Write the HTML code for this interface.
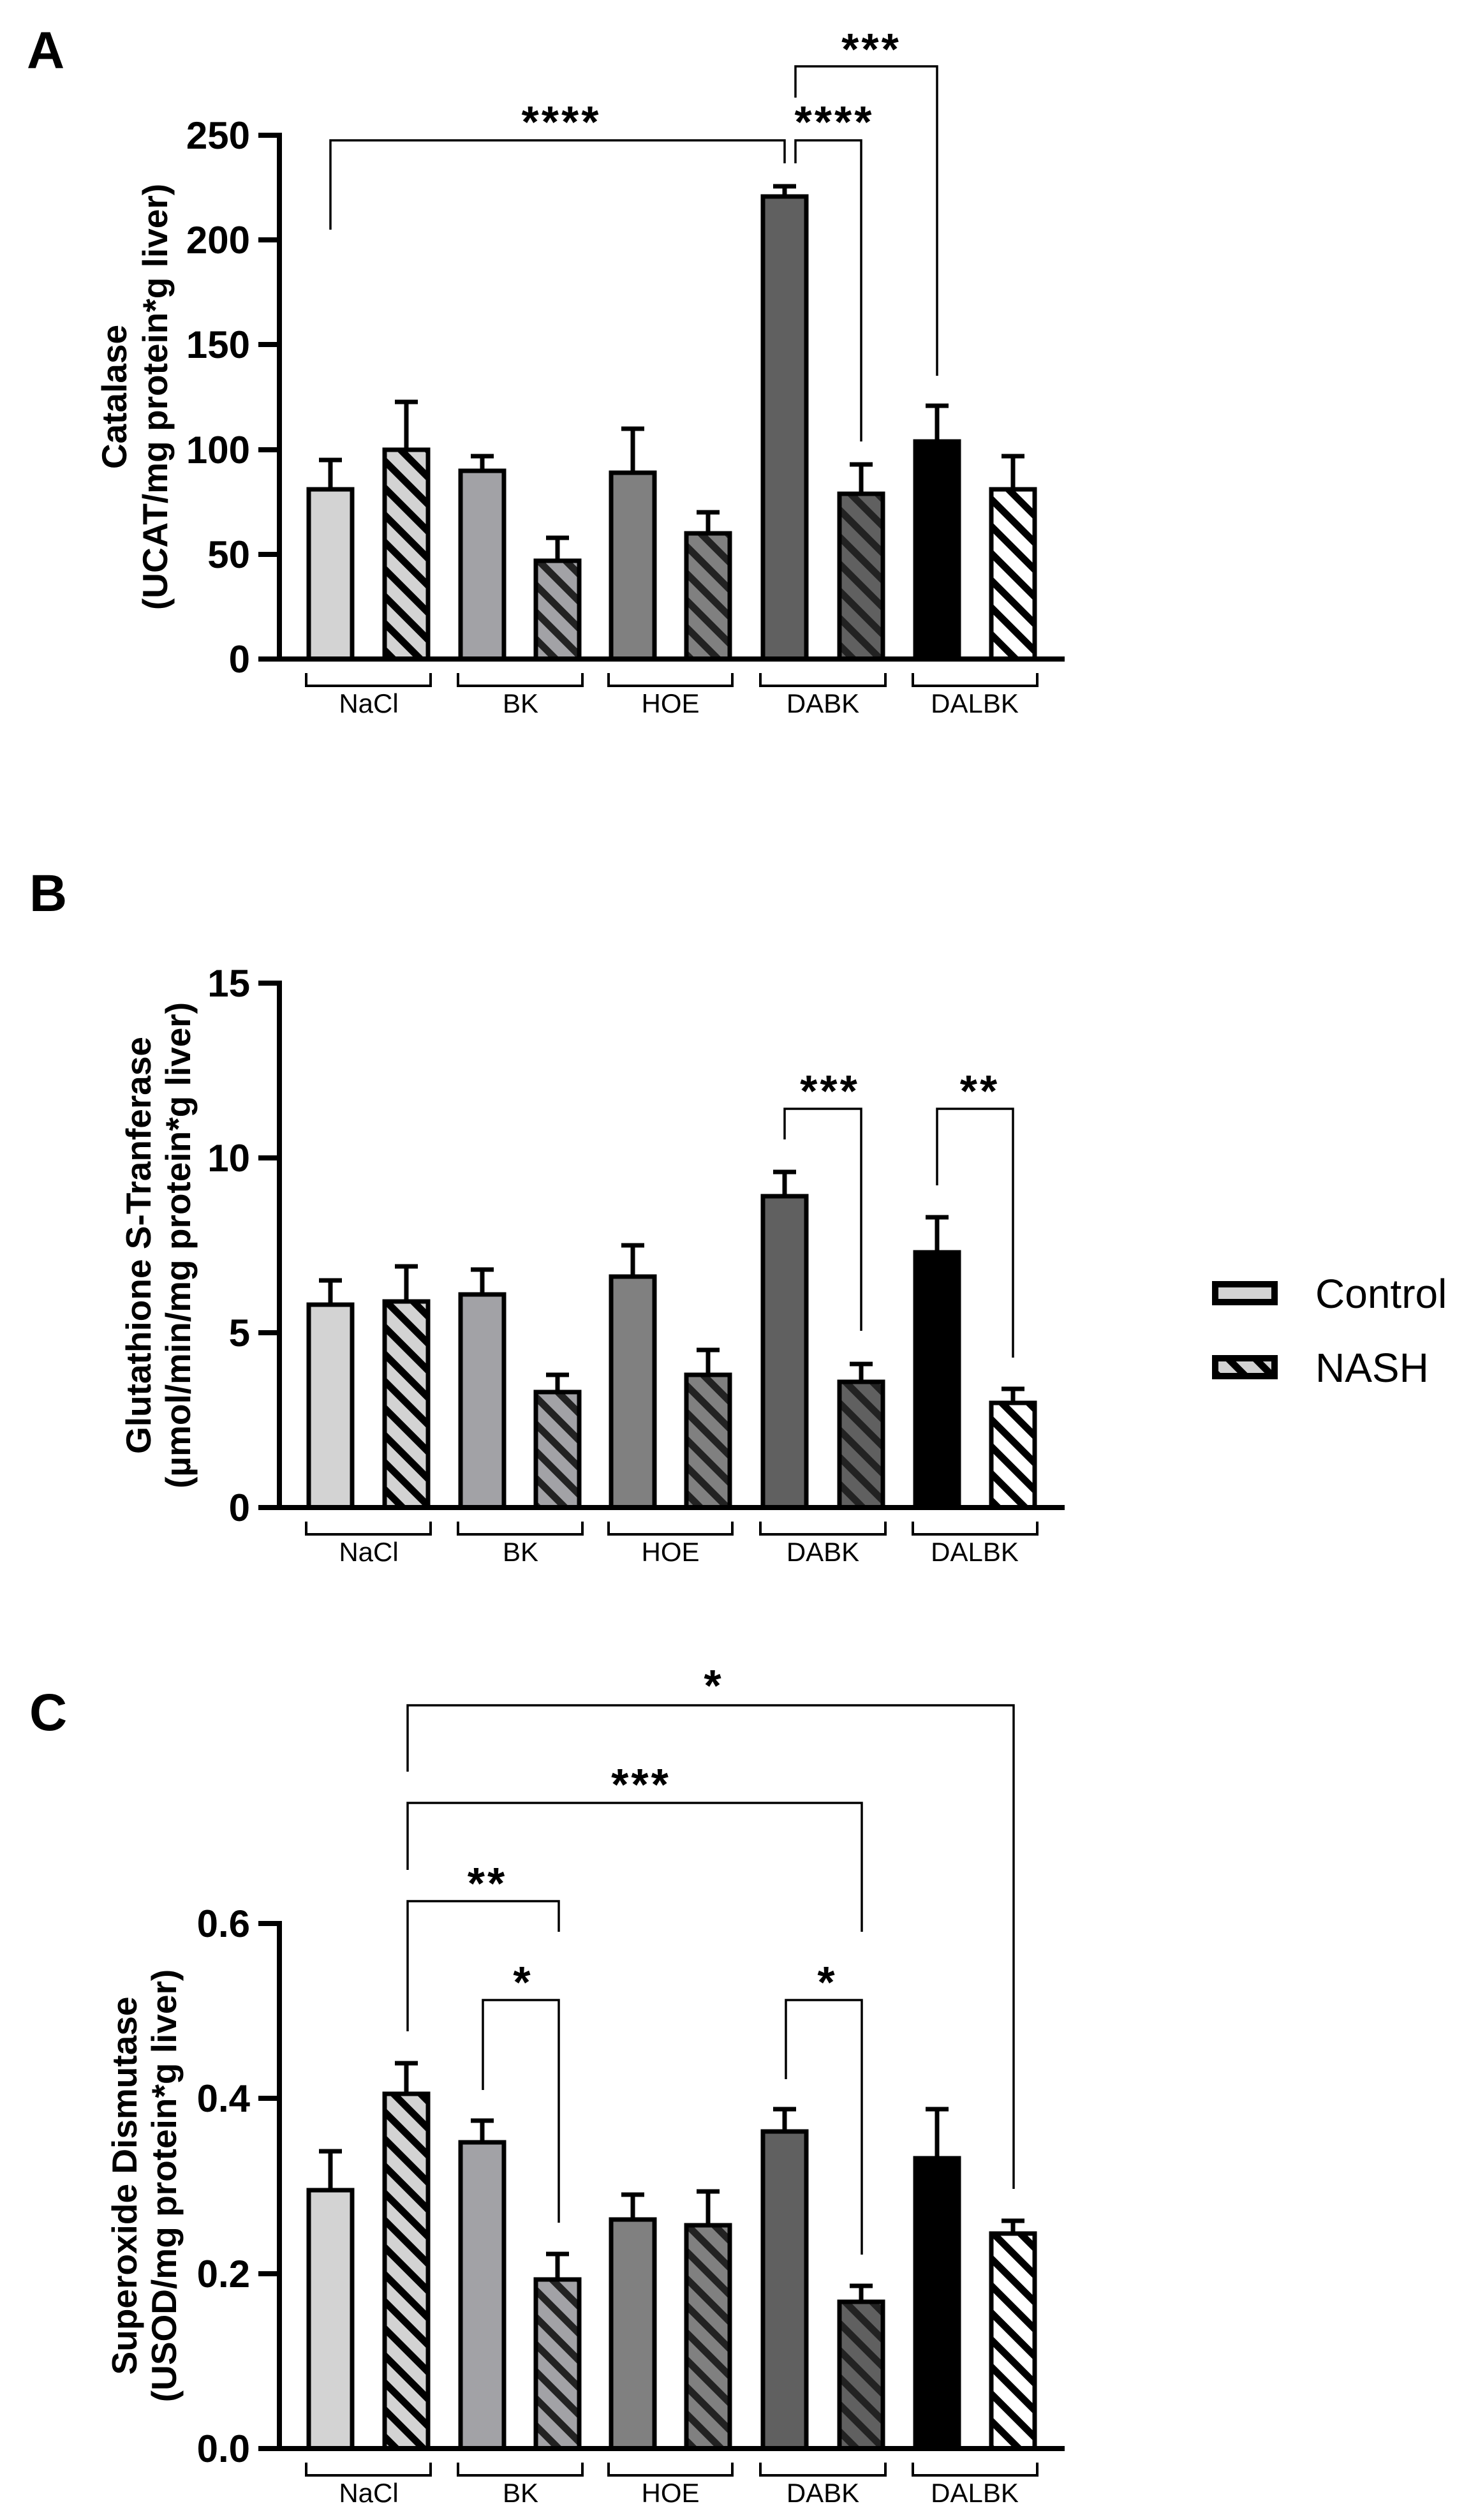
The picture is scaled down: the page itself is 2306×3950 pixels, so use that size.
<!DOCTYPE html>
<html><head><meta charset="utf-8"><style>
html,body{margin:0;padding:0;background:#fff;}
svg{display:block;font-family:"Liberation Sans",Arial,sans-serif;}
.t{font-size:60px;font-weight:bold;text-anchor:end;}
.yt{font-size:55px;font-weight:bold;text-anchor:middle;}
.g{font-size:42px;text-anchor:middle;}
.s{font-size:70px;font-weight:bold;text-anchor:middle;letter-spacing:4px;}
.p{font-size:82px;font-weight:bold;}
.bar{stroke:#000;stroke-width:7;}
.eb{stroke:#000;stroke-width:7;fill:none;}
.ax{stroke:#000;stroke-width:8;fill:none;}
.br{stroke:#000;stroke-width:3.5;fill:none;}
.gb{stroke:#000;stroke-width:4;fill:none;}
</style></head><body>
<svg width="2306" height="3950" viewBox="0 0 2306 3950" xmlns="http://www.w3.org/2000/svg">
<defs>
<pattern id="p1" patternUnits="userSpaceOnUse" width="30" height="30" patternTransform="rotate(-45)"><rect width="30" height="30" fill="#d3d3d3"/><rect width="11" height="30" fill="#000"/></pattern>
<pattern id="p2" patternUnits="userSpaceOnUse" width="30" height="30" patternTransform="rotate(-45)"><rect width="30" height="30" fill="#a2a2a6"/><rect width="11" height="30" fill="#222"/></pattern>
<pattern id="p3" patternUnits="userSpaceOnUse" width="30" height="30" patternTransform="rotate(-45)"><rect width="30" height="30" fill="#808080"/><rect width="11" height="30" fill="#222"/></pattern>
<pattern id="p4" patternUnits="userSpaceOnUse" width="30" height="30" patternTransform="rotate(-45)"><rect width="30" height="30" fill="#606060"/><rect width="11" height="30" fill="#222"/></pattern>
<pattern id="p5" patternUnits="userSpaceOnUse" width="30" height="30" patternTransform="rotate(-45)"><rect width="30" height="30" fill="#fff"/><rect width="11" height="30" fill="#000"/></pattern>
</defs>

<!-- ================= PANEL A ================= -->
<text class="p" x="42" y="107">A</text>
<text class="yt" transform="translate(198,622) rotate(-90)">Catalase</text>
<text class="yt" transform="translate(262,622) rotate(-90)">(UCAT/mg protein*g liver)</text>
<!-- bars -->
<rect class="bar" x="484" y="767" width="68" height="266" fill="#d3d3d3"/>
<rect class="bar" x="603" y="705" width="68" height="328" fill="url(#p1)"/>
<rect class="bar" x="722" y="738" width="68" height="295" fill="#a2a2a6"/>
<rect class="bar" x="840" y="879" width="68" height="154" fill="url(#p2)"/>
<rect class="bar" x="958" y="741" width="68" height="292" fill="#808080"/>
<rect class="bar" x="1076" y="836" width="68" height="197" fill="url(#p3)"/>
<rect class="bar" x="1196" y="308" width="68" height="725" fill="#606060"/>
<rect class="bar" x="1316" y="774" width="68" height="259" fill="url(#p4)"/>
<rect class="bar" x="1435" y="692" width="68" height="341" fill="#000"/>
<rect class="bar" x="1554" y="767" width="68" height="266" fill="url(#p5)"/>
<!-- error bars -->
<path class="eb" d="M518 764V721M500 721H536 M637 702V630M619 630H655 M756 735V715M738 715H774 M874 876V843M856 843H892 M992 738V672M974 672H1010 M1110 833V803M1092 803H1128 M1230 305V292M1212 292H1248 M1350 771V728M1332 728H1368 M1469 689V636M1451 636H1487 M1588 764V715M1570 715H1606"/>
<!-- axes -->
<path class="ax" d="M438 208V1037 M405 212H438 M405 376H438 M405 540H438 M405 705H438 M405 869H438 M405 1033H1669"/>
<text class="t" x="392" y="233">250</text>
<text class="t" x="392" y="397">200</text>
<text class="t" x="392" y="561">150</text>
<text class="t" x="392" y="726">100</text>
<text class="t" x="392" y="890">50</text>
<text class="t" x="392" y="1054">0</text>
<!-- group brackets -->
<path class="gb" d="M480 1055V1075H675V1055 M718 1055V1075H913V1055 M954 1055V1075H1148V1055 M1192 1055V1075H1388V1055 M1431 1055V1075H1626V1055"/>
<text class="g" x="578" y="1117">NaCl</text>
<text class="g" x="816" y="1117">BK</text>
<text class="g" x="1051" y="1117">HOE</text>
<text class="g" x="1290" y="1117">DABK</text>
<text class="g" x="1528" y="1117">DALBK</text>
<!-- significance -->
<path class="br" d="M518 360V220H1230V256 M1247 256V220H1350V692 M1247 153V104H1469V589"/>
<text class="s" x="880" y="215">****</text>
<text class="s" x="1308" y="215">****</text>
<text class="s" x="1366" y="101">***</text>

<!-- ================= PANEL B ================= -->
<text class="p" x="46" y="1428">B</text>
<text class="yt" transform="translate(236,1952) rotate(-90)">Glutathione S-Tranferase</text>
<text class="yt" transform="translate(298,1952) rotate(-90)">(µmol/min/mg protein*g liver)</text>
<rect class="bar" x="484" y="2045" width="68" height="318" fill="#d3d3d3"/>
<rect class="bar" x="603" y="2040" width="68" height="323" fill="url(#p1)"/>
<rect class="bar" x="722" y="2029" width="68" height="334" fill="#a2a2a6"/>
<rect class="bar" x="840" y="2182" width="68" height="181" fill="url(#p2)"/>
<rect class="bar" x="958" y="2001" width="68" height="362" fill="#808080"/>
<rect class="bar" x="1076" y="2155" width="68" height="208" fill="url(#p3)"/>
<rect class="bar" x="1196" y="1875" width="68" height="488" fill="#606060"/>
<rect class="bar" x="1316" y="2166" width="68" height="197" fill="url(#p4)"/>
<rect class="bar" x="1435" y="1963" width="68" height="400" fill="#000"/>
<rect class="bar" x="1554" y="2199" width="68" height="164" fill="url(#p5)"/>
<path class="eb" d="M518 2042V2007M500 2007H536 M637 2037V1985M619 1985H655 M756 2026V1990M738 1990H774 M874 2179V2155M856 2155H892 M992 1998V1952M974 1952H1010 M1110 2152V2116M1092 2116H1128 M1230 1872V1837M1212 1837H1248 M1350 2163V2138M1332 2138H1368 M1469 1960V1908M1451 1908H1487 M1588 2196V2177M1570 2177H1606"/>
<path class="ax" d="M438 1537V2367 M405 1541H438 M405 1815H438 M405 2089H438 M405 2363H1669"/>
<text class="t" x="392" y="1562">15</text>
<text class="t" x="392" y="1836">10</text>
<text class="t" x="392" y="2110">5</text>
<text class="t" x="392" y="2384">0</text>
<path class="gb" d="M480 2385V2405H675V2385 M718 2385V2405H913V2385 M954 2385V2405H1148V2385 M1192 2385V2405H1388V2385 M1431 2385V2405H1626V2385"/>
<text class="g" x="578" y="2447">NaCl</text>
<text class="g" x="816" y="2447">BK</text>
<text class="g" x="1051" y="2447">HOE</text>
<text class="g" x="1290" y="2447">DABK</text>
<text class="g" x="1528" y="2447">DALBK</text>
<path class="br" d="M1230 1786V1738H1350V2086 M1469 1858V1738H1588V2128"/>
<text class="s" x="1301" y="1734">***</text>
<text class="s" x="1536" y="1734">**</text>

<!-- Legend -->
<rect x="1905" y="2013" width="93" height="28" fill="#d3d3d3" stroke="#000" stroke-width="10"/>
<text x="2062" y="2050" style="font-size:64px">Control</text>
<rect x="1905" y="2129" width="93" height="28" fill="url(#p1)" stroke="#000" stroke-width="10"/>
<text x="2062" y="2166" style="font-size:64px">NASH</text>

<!-- ================= PANEL C ================= -->
<text class="p" x="46" y="2712">C</text>
<text class="yt" transform="translate(214,3426) rotate(-90)">Superoxide Dismutase</text>
<text class="yt" transform="translate(276,3426) rotate(-90)">(USOD/mg protein*g liver)</text>
<rect class="bar" x="484" y="3433" width="68" height="405" fill="#d3d3d3"/>
<rect class="bar" x="603" y="3282" width="68" height="556" fill="url(#p1)"/>
<rect class="bar" x="722" y="3358" width="68" height="480" fill="#a2a2a6"/>
<rect class="bar" x="840" y="3573" width="68" height="265" fill="url(#p2)"/>
<rect class="bar" x="958" y="3479" width="68" height="359" fill="#808080"/>
<rect class="bar" x="1076" y="3488" width="68" height="350" fill="url(#p3)"/>
<rect class="bar" x="1196" y="3341" width="68" height="497" fill="#606060"/>
<rect class="bar" x="1316" y="3608" width="68" height="230" fill="url(#p4)"/>
<rect class="bar" x="1435" y="3383" width="68" height="455" fill="#000"/>
<rect class="bar" x="1554" y="3501" width="68" height="337" fill="url(#p5)"/>
<path class="eb" d="M518 3430V3372M500 3372H536 M637 3279V3234M619 3234H655 M756 3355V3324M738 3324H774 M874 3570V3533M856 3533H892 M992 3476V3440M974 3440H1010 M1110 3485V3435M1092 3435H1128 M1230 3338V3306M1212 3306H1248 M1350 3605V3583M1332 3583H1368 M1469 3380V3306M1451 3306H1487 M1588 3498V3481M1570 3481H1606"/>
<path class="ax" d="M438 3011V3842 M405 3015H438 M405 3289H438 M405 3564H438 M405 3838H1669"/>
<text class="t" x="392" y="3036">0.6</text>
<text class="t" x="392" y="3310">0.4</text>
<text class="t" x="392" y="3585">0.2</text>
<text class="t" x="392" y="3859">0.0</text>
<path class="gb" d="M480 3860V3880H675V3860 M718 3860V3880H913V3860 M954 3860V3880H1148V3860 M1192 3860V3880H1388V3860 M1431 3860V3880H1626V3860"/>
<text class="g" x="578" y="3922">NaCl</text>
<text class="g" x="816" y="3922">BK</text>
<text class="g" x="1051" y="3922">HOE</text>
<text class="g" x="1290" y="3922">DABK</text>
<text class="g" x="1528" y="3922">DALBK</text>
<path class="br" d="M639 2777V2673H1589V3431 M639 2931V2826H1351V3028 M639 3184V2980H876V3028 M757 3276V3135H876V3484 M1232 3259V3135H1351V3534"/>
<text class="s" x="1119" y="2666">*</text>
<text class="s" x="1005" y="2821">***</text>
<text class="s" x="764" y="2976">**</text>
<text class="s" x="820" y="3131">*</text>
<text class="s" x="1297" y="3131">*</text>
</svg>
</body></html>
